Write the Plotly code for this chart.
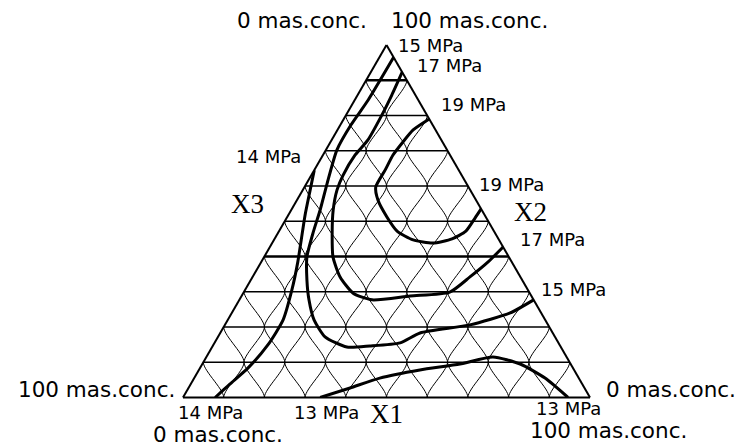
import numpy as np
import plotly.graph_objects as go

# ---- Compressive-strength isolines, mass % of X1 and X2 (X3 closes to 100) ----
x1_13 = [33.7, 39.7, 45.6, 54.3, 63.3, 70.4, 78.1, 86.2, 94.6]
x2_13 = [0.0, 2.7, 5.5, 7.8, 9.5, 11.5, 9.5, 5.5, 0.0]

x1_14 = [0.0, 1.8, 4.1, 6.7, 9.0, 11.5, 13.6, 13.4, 11.8, 9.6, 7.9]
x2_14 = [64.5, 58.9, 51.8, 44.7, 38.4, 30.5, 22.0, 14.9, 8.4, 3.8, 0.0]

x1_15 = [3.5, 3.3, 2.6, 2.7, 5.0, 7.1, 8.6, 10.5, 13.8, 17.1, 21.2, 26.3,
         33.1, 38.6, 45.6, 49.1, 60.2, 68.4, 72.3]
x2_15 = [96.5, 84.4, 77.3, 70.2, 60.9, 53.2, 46.7, 39.9, 33.3, 27.7, 22.0, 17.2,
         14.3, 14.6, 15.5, 18.3, 20.6, 24.0, 27.7]

x1_17 = [7.7, 8.4, 8.8, 8.9, 7.9, 7.8, 8.4, 10.3, 13.3, 16.9, 21.5, 27.0,
         32.6, 41.4, 50.6, 53.4, 55.7, 57.3]
x2_17 = [92.3, 85.8, 80.1, 73.0, 68.8, 63.1, 58.9, 53.2, 46.7, 39.9, 34.2, 29.6,
         27.7, 28.8, 29.9, 34.2, 38.4, 42.7]

x1_19 = [21.0, 18.6, 17.8, 17.2, 17.4, 17.5, 19.9, 24.5, 29.0, 34.2, 39.5,
         43.6, 45.9, 46.3, 46.5]
x2_19 = [79.0, 75.9, 72.5, 68.8, 64.5, 59.7, 56.0, 51.2, 47.2, 44.7, 43.8,
         45.0, 47.2, 50.9, 53.5]

isolines = [(x1_13, x2_13), (x1_14, x2_14), (x1_15, x2_15),
            (x1_17, x2_17), (x1_19, x2_19)]

W, HGT = 743, 446
SQ = np.sqrt(3) / 2

fig = go.Figure()


def to_xy(a, c):
    return c + a / 2.0, a * SQ


def to_abc(x, y):
    a = y / SQ
    c = x - a / 2.0
    return a, 1.0 - a - c, c


def bez(q0, q1, q2, q3, t):
    return (1 - t) ** 3 * q0 + 3 * (1 - t) ** 2 * t * q1 + 3 * (1 - t) * t ** 2 * q2 + t ** 3 * q3


# ---- wavy diagonal lattice (10 % step) ----
ga, gb, gc = [], [], []
t = np.linspace(0, 1, 16)
k = 0.24
for j in range(10):
    for i in range(1, 10 - j):
        for ci_top in (i, i - 1):
            x0, y0 = to_xy(j / 10, i / 10)
            x3, y3 = to_xy((j + 1) / 10, ci_top / 10)
            dy = y3 - y0
            xs = bez(x0, x0, x3, x3, t)
            ys = bez(y0, y0 + k * dy, y3 - k * dy, y3, t)
            a, b, c = to_abc(xs, ys)
            ga += list(a * 100) + [None]
            gb += list(b * 100) + [None]
            gc += list(c * 100) + [None]
fig.add_trace(go.Scatterternary(a=ga, b=gb, c=gc, mode="lines",
                                line=dict(color="black", width=1),
                                hoverinfo="skip", connectgaps=False))

# ---- horizontal lattice lines (constant X2) ----
for lev in range(10, 100, 10):
    wdt = 2.4 if lev in (40, 90) else 1.3
    fig.add_trace(go.Scatterternary(a=[lev, lev], b=[100 - lev, 0], c=[0, 100 - lev],
                                    mode="lines", line=dict(color="black", width=wdt),
                                    hoverinfo="skip"))

# ---- isolines ----
for x1, x2 in isolines:
    x3 = [100 - p - q for p, q in zip(x1, x2)]
    fig.add_trace(go.Scatterternary(a=x2, b=x3, c=x1, mode="lines",
                                    line=dict(color="black", width=3, shape="spline", smoothing=0.6),
                                    hoverinfo="skip"))

axis_style = dict(min=0, showgrid=False, showticklabels=False, ticks="",
                  linecolor="black", linewidth=2, title=dict(text=""))

fig.update_layout(
    width=W, height=HGT,
    margin=dict(l=0, r=0, t=0, b=0),
    paper_bgcolor="white",
    showlegend=False,
    hovermode=False,
    ternary=dict(
        sum=100,
        bgcolor="white",
        domain=dict(x=[183 / W, 590 / W], y=[1 - 397.5 / HGT, 1 - 45 / HGT]),
        aaxis=axis_style, baxis=axis_style, caxis=axis_style,
    ),
)

sans = "DejaVu Sans, Arial, sans-serif"
serif = "Liberation Serif, Times New Roman, serif"

texts = [
    # corner concentration labels
    ("0 mas.conc.", 302, 20, 21.5, sans),
    ("100 mas.conc.", 470, 20, 21.5, sans),
    ("100 mas.conc.", 96, 389, 21.5, sans),
    ("0 mas.conc.", 218, 434, 21.5, sans),
    ("0 mas.conc.", 671, 389, 21.5, sans),
    ("100 mas.conc.", 608, 430, 21.5, sans),
    # component names
    ("X3", 247, 204, 27, serif),
    ("X2", 530, 212, 27, serif),
    ("X1", 386, 414, 27, serif),
    # isoline values
    ("15 MPa", 430, 46, 18, sans),
    ("17 MPa", 449, 66, 18, sans),
    ("19 MPa", 473, 104, 18, sans),
    ("14 MPa", 268, 156, 18, sans),
    ("19 MPa", 511, 184, 18, sans),
    ("17 MPa", 552, 239, 18, sans),
    ("15 MPa", 573, 289, 18, sans),
    ("14 MPa", 210, 412, 18, sans),
    ("13 MPa", 326, 412, 18, sans),
    ("13 MPa", 568, 408, 18, sans),
]
for txt, px, py, size, fam in texts:
    fig.add_annotation(text=txt, x=px / W, y=1 - py / HGT, xref="paper", yref="paper",
                       xanchor="center", yanchor="middle", showarrow=False,
                       font=dict(family=fam, size=size, color="black"))

fig.write_html("out.html")
